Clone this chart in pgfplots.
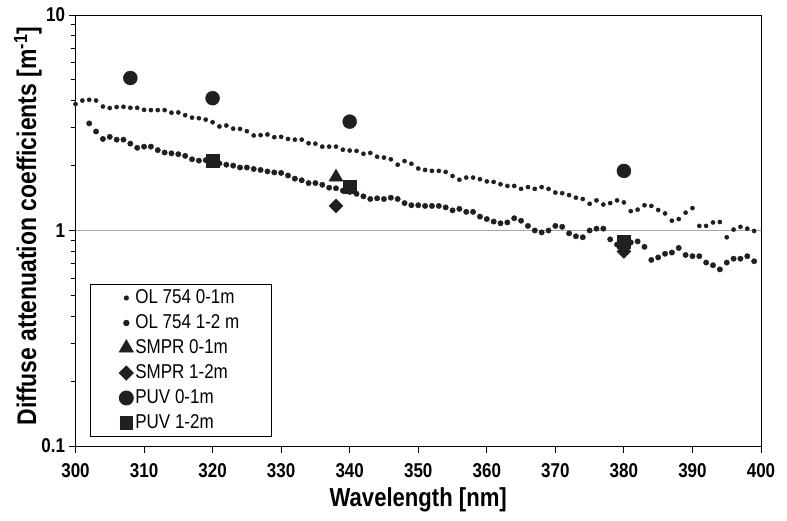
\documentclass[border=0pt]{standalone}
\usepackage{fontspec}
\setmainfont{Liberation Sans}[FakeStretch=0.85]
\usepackage{pgfplots}
\pgfplotsset{compat=1.18}
\definecolor{ink}{RGB}{35,31,32}
\begin{document}
\begin{tikzpicture}
\useasboundingbox (-75.5pt,-75pt) rectangle (711.5pt,446pt);
\begin{axis}[
  at={(0,0)}, anchor=south west,
  scale only axis, width=685.5pt, height=431pt,
  ymode=log, xmin=300, xmax=400, ymin=0.1, ymax=10,
  xtick={300,310,...,400},
  ytick={0.1,1,10}, yticklabels={0.1,1,10},
  minor ytick={0.2,0.3,0.4,0.5,0.6,0.7,0.8,0.9,2,3,4,5,6,7,8,9},
  xtick pos=bottom, ytick pos=left,
  tick align=outside,
  major tick length=7pt, minor tick length=5pt,
  axis line style={black, line width=0.9pt},
  every tick/.style={black, line width=0.9pt},
  /pgf/number format/assume math mode=true,
  ticklabel style={font=\bfseries\fontsize{20}{22}\selectfont},
  xticklabel style={yshift=-7pt},
  xlabel={\bfseries Wavelength [nm]},
  ylabel={\bfseries Diffuse attenuation coefficients [m\textsuperscript{-1}]},
  xlabel style={font=\bfseries\fontsize{26}{28}\selectfont, at={(axis description cs:0.5,0)}, anchor=center, yshift=-54pt},
  ylabel style={font=\bfseries\fontsize{27}{29}\selectfont, at={(axis description cs:-0.0693,0.51)}, anchor=center},
  legend style={at={(0.021,0.021)}, anchor=south west, draw=black, line width=0.9pt,
    font=\fontsize{20}{22}\selectfont, inner sep=3pt, row sep=4pt,
    nodes={text height=14pt, text depth=3pt, inner sep=2pt}},
  legend cell align=left,
  legend image code/.code={\pgfpathmoveto{\pgfpoint{0pt}{-1pt}}\pgfpathmoveto{\pgfpoint{40pt}{1pt}}\pgfusepath{discard}
    \draw[mark repeat=2,mark phase=2,#1] plot coordinates {(0pt,0pt) (33pt,0pt) (40pt,0pt)};},
]
\draw[gray!70, line width=1pt] (axis cs:300,1) -- (axis cs:400,1);
\addplot[only marks, mark=*, mark size=2.1pt, color=ink] coordinates {
(300,3.86)(301,4.01)(302,4.04)(303,4.01)(304,3.76)(305,3.70)(306,3.74)(307,3.75)(308,3.71)(309,3.71)
(310,3.63)(311,3.62)(312,3.62)(313,3.62)(314,3.52)(315,3.53)(316,3.43)(317,3.34)(318,3.32)(319,3.27)
(320,3.18)(321,3.04)(322,3.07)(323,2.97)(324,2.96)(325,2.89)(326,2.76)(327,2.77)(328,2.79)(329,2.71)
(330,2.72)(331,2.66)(332,2.64)(333,2.64)(334,2.54)(335,2.53)(336,2.45)(337,2.45)(338,2.45)(339,2.37)
(340,2.35)(341,2.34)(342,2.27)(343,2.29)(344,2.20)(345,2.18)(346,2.14)(347,2.02)(348,2.10)(349,2.04)
(350,1.94)(351,1.91)(352,1.89)(353,1.89)(354,1.87)(355,1.79)(356,1.72)(357,1.76)(358,1.76)(359,1.73)
(360,1.69)(361,1.68)(362,1.64)(363,1.61)(364,1.61)(365,1.56)(366,1.59)(367,1.56)(368,1.59)(369,1.56)
(370,1.50)(371,1.49)(372,1.46)(373,1.42)(374,1.40)(375,1.33)(376,1.38)(377,1.32)(378,1.34)(379,1.38)
(380,1.35)(381,1.23)(382,1.25)(383,1.31)(384,1.30)(385,1.245)(386,1.20)(387,1.11)(388,1.13)(389,1.21)
(390,1.27)(391,1.05)(392,1.05)(393,1.09)(394,1.095)(395,0.93)(396,1.01)(397,1.04)(398,1.02)(399,0.995)
};
\addlegendentry{\makebox[131pt][l]{OL 754 0-1m}}
\addplot[only marks, mark=*, mark size=2.7pt, color=ink] coordinates {
(302,3.14)(303,2.88)(304,2.66)(305,2.72)(306,2.64)(307,2.64)(308,2.53)(309,2.42)
(310,2.45)(311,2.45)(312,2.36)(313,2.30)(314,2.28)(315,2.26)(316,2.22)(317,2.14)(318,2.11)(319,2.12)
(320,2.09)(321,2.05)(322,2.02)(323,2.00)(324,1.96)(325,1.96)(326,1.93)(327,1.91)(328,1.88)(329,1.86)
(330,1.85)(331,1.80)(332,1.74)(333,1.71)(334,1.66)(335,1.66)(336,1.63)(337,1.58)(338,1.57)(339,1.53)
(340,1.51)(341,1.48)(342,1.44)(343,1.40)(344,1.41)(345,1.40)(346,1.42)(347,1.40)(348,1.34)(349,1.31)
(350,1.31)(351,1.30)(352,1.30)(353,1.30)(354,1.28)(355,1.24)(356,1.26)(357,1.22)(358,1.22)(359,1.16)
(360,1.13)(361,1.10)(362,1.08)(363,1.09)(364,1.14)(365,1.11)(366,1.05)(367,1.00)(368,0.98)(369,1.00)
(370,1.05)(371,1.04)(372,0.97)(373,0.94)(374,0.93)(375,1.00)(376,1.02)(377,1.02)(378,0.91)(379,0.86)
(380,0.87)(381,0.88)(382,0.89)(383,0.84)(384,0.73)(385,0.75)(386,0.78)(387,0.79)(388,0.83)(389,0.77)
(390,0.76)(391,0.76)(392,0.71)(393,0.69)(394,0.66)(395,0.71)(396,0.74)(397,0.74)(398,0.76)(399,0.72)
};
\addlegendentry{OL 754 1-2 m}
\addplot[only marks, mark=triangle*, mark size=8pt, color=ink] coordinates {(338,1.77)};
\addlegendentry{SMPR 0-1m}
\addplot[only marks, mark=square*, mark size=4.95pt, mark options={rotate=45}, color=ink] coordinates {(338,1.30)(380,0.80)};
\addlegendentry{SMPR 1-2m}
\addplot[only marks, mark=*, mark size=7pt, color=ink] coordinates {(308,5.10)(320,4.11)(340,3.20)(380,1.89)};
\addlegendentry{PUV 0-1m}
\addplot[only marks, mark=square*, mark size=6.3pt, color=ink] coordinates {(320,2.11)(340,1.60)(380,0.885)};
\addlegendentry{PUV 1-2m}
\end{axis}
\end{tikzpicture}
\end{document}
